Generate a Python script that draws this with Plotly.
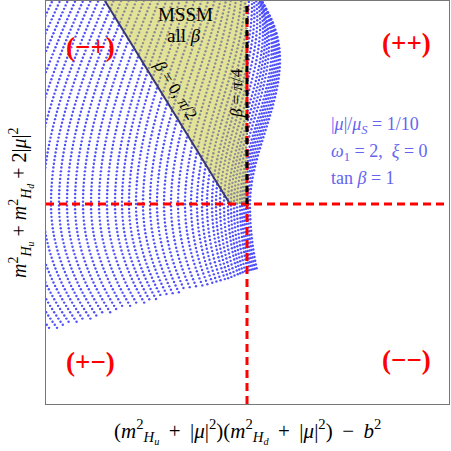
import numpy as np
import plotly.graph_objects as go

# ---- frame (units = screen pixels, origin where the two red dashed lines cross)
x_range = [-201, 202]
y_range = [-200, 203]

# ---- scan curves: anchors
# vertex position (x at y = 0) of every dotted curve, right to left
curve_vertex_x = [3, 1, -1, -3, -5, -7, -10, -13, -16, -19, -23, -27, -31, -35, -40,
                  -45, -50, -56, -62, -69, -76, -83, -90, -97, -104, -111, -118,
                  -125, -132, -140, -148, -156, -164, -172, -180, -188, -196, -204,
                  -212, -220, -228, -236, -244, -252, -260, -268]
# upper-branch curvature and fold height, as anchors against vertex position
anchor_vx = [-270, -120, -60, -30, -10, 3]
anchor_bend_up = [0.0019, 0.0019, 0.0025, 0.00316, 0.00375, 0.00434]
anchor_fold_y = [520, 380, 240, 190, 160, 144]
anchor_bend_low = [0.0030, 0.0030, 0.0026, 0.0022, 0.0018, 0.0016]
# lower edge of the scan (straight line through two read points)
lower_edge_x = [-201, 10]
lower_edge_y = [-128, -66]

# ---- MSSM region and special lines
mssm_x = [-17, -142, 0, 0]
mssm_y = [0, 203, 203, 0]
beta0_x = [-17, -142]
beta0_y = [0, 203]

xs, ys = [], []
slope = (lower_edge_y[1] - lower_edge_y[0]) / (lower_edge_x[1] - lower_edge_x[0])
for vx in curve_vertex_x:
    a = np.interp(vx, anchor_vx, anchor_bend_up)
    ym = np.interp(vx, anchor_vx, anchor_fold_y)
    c = np.interp(vx, anchor_vx, anchor_bend_low)
    b = 2 * a / (3 * ym)
    yy = np.linspace(-200, 210, 1200)
    xx = np.where(yy >= 0, vx + a * yy**2 - b * yy**3, vx + c * yy**2)
    # dots evenly spaced along the curve
    seg = np.hypot(np.diff(xx), np.diff(yy))
    s = np.concatenate([[0], np.cumsum(seg)])
    st = np.arange(0, s[-1], 3.8)
    px = np.interp(st, s, xx)
    py = np.interp(st, s, yy)
    ylow = lower_edge_y[0] + slope * (px - lower_edge_x[0])
    keep = (py >= ylow) & (px >= x_range[0] - 1) & (py <= y_range[1] + 1)
    xs.extend(px[keep].tolist())
    ys.extend(py[keep].tolist())

fig = go.Figure()
fig.add_trace(go.Scatter(x=xs, y=ys, mode="markers",
                         marker=dict(size=2.4, color="rgb(80,80,250)", line=dict(width=0)),
                         hoverinfo="skip"))
fig.add_trace(go.Scatter(x=mssm_x, y=mssm_y, mode="lines", fill="toself",
                         fillcolor="rgba(200,200,50,0.5)", line=dict(width=0),
                         hoverinfo="skip"))
fig.add_trace(go.Scatter(x=beta0_x, y=beta0_y, mode="lines",
                         line=dict(color="rgb(55,55,120)", width=2), hoverinfo="skip"))
# red dashed crosshair
fig.add_trace(go.Scatter(x=[x_range[0], x_range[1]], y=[0, 0], mode="lines",
                         line=dict(color="red", width=3, dash="8px,5px"), hoverinfo="skip"))
fig.add_trace(go.Scatter(x=[0, 0], y=[y_range[0], y_range[1]], mode="lines",
                         line=dict(color="red", width=3, dash="8px,5px"), hoverinfo="skip"))
# beta = pi/4 line
fig.add_trace(go.Scatter(x=[0, 0], y=[0, y_range[1]], mode="lines",
                         line=dict(color="black", width=3, dash="6px,6px"), hoverinfo="skip"))

serif = "Liberation Serif"
blue_txt = "rgb(100,100,240)"
sp = "\u2009"
ann = []
for txt, x, y in [("(−+)", 90, 47), ("(++)", 406, 43), ("(+−)", 90, 362), ("(−−)", 406, 360)]:
    ann.append(dict(text="<b>" + txt + "</b>", x=x, y=y,
                    font=dict(family=serif, size=27, color="red")))
ann += [
    dict(text="MSSM", x=185, y=15, font=dict(family=serif, size=19, color="black")),
    dict(text="all <i>β</i>", x=184, y=35, font=dict(family=serif, size=19, color="black")),
    dict(text="<i>β</i> = 0, <i>π</i>/2", x=175, y=90, textangle=58,
         font=dict(family=serif, size=17, color="black")),
    dict(text="<i>β</i> = <i>π</i>/4", x=237, y=93, textangle=-90,
         font=dict(family=serif, size=17, color="black")),
    dict(text="|<i>μ</i>|/<i>μ<sub>S</sub></i> = 1/10", x=329, y=125, xanchor="left",
         font=dict(family=serif, size=18, color=blue_txt)),
    dict(text="<i>ω</i><sub>1</sub> = 2,  <i>ξ</i> = 0", x=329, y=152, xanchor="left",
         font=dict(family=serif, size=18, color=blue_txt)),
    dict(text="tan <i>β</i> = 1", x=329, y=178, xanchor="left",
         font=dict(family=serif, size=18, color=blue_txt)),
    dict(text="(<i>m</i><sup>2</sup><sub><i>H<sub>u</sub></i></sub> " + sp + "+" + sp + " |<i>μ</i>|<sup>2</sup>)"
              "(<i>m</i><sup>2</sup><sub><i>H<sub>d</sub></i></sub> " + sp + "+" + sp + " |<i>μ</i>|<sup>2</sup>) "
              + sp + "−" + sp + " <i>b</i><sup>2</sup>",
         x=247, y=431, font=dict(family=serif, size=21, color="black")),
    dict(text="<i>m</i><sup>2</sup><sub><i>H<sub>u</sub></i></sub> + <i>m</i><sup>2</sup><sub><i>H<sub>d</sub></i></sub> + 2|<i>μ</i>|<sup>2</sup>",
         x=21, y=203, textangle=-90, font=dict(family=serif, size=20, color="black")),
]
# convert pixel positions to paper coordinates
W = H = 451
L, R, T, B = 46, 2, 1, 47
pw, ph = W - L - R, H - T - B
final = []
for a in ann:
    a = dict(a)
    px, py = a["x"], a["y"]
    a["x"] = (px - L) / pw
    a["y"] = 1 - (py - T) / ph
    a["xref"] = "paper"
    a["yref"] = "paper"
    a["showarrow"] = False
    a.setdefault("xanchor", "center")
    a["yanchor"] = "middle"
    final.append(a)

fig.update_layout(
    width=W, height=H, margin=dict(l=L, r=R, t=T, b=B, autoexpand=False),
    paper_bgcolor="white", plot_bgcolor="white", showlegend=False,
    annotations=final,
)
fig.update_xaxes(range=x_range, showgrid=False, zeroline=False, showticklabels=False,
                 ticks="", showline=True, mirror=True, linecolor="#777", linewidth=1)
fig.update_yaxes(range=y_range, showgrid=False, zeroline=False, showticklabels=False,
                 ticks="", showline=True, mirror=True, linecolor="#777", linewidth=1)
post = ("document.body.style.margin='0';document.body.style.overflow='hidden';"
        "var gd=document.getElementById('{plot_id}');"
        "Plotly.relayout(gd,{width:451,height:451});")
fig.write_html("out.html", config={"responsive": False, "displayModeBar": False},
               post_script=post)
